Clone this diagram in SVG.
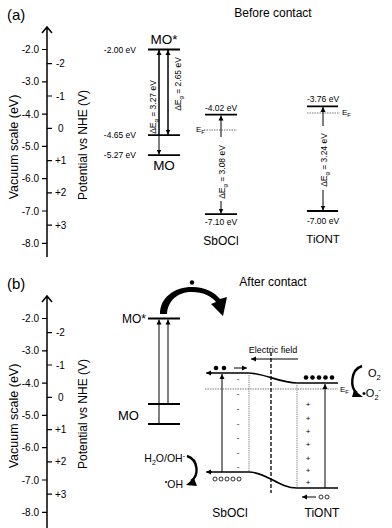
<svg xmlns="http://www.w3.org/2000/svg" width="392" height="528" viewBox="0 0 392 528">
<style>
text{font-family:"Liberation Sans",Arial,sans-serif;fill:#000}
.ax{stroke:#000;stroke-width:1.5;fill:none}
.tk{stroke:#000;stroke-width:1.2}
.tl{font-size:10px;text-anchor:end}
.tr{font-size:10px}
.lv{stroke:#000;stroke-width:1.8}
.ar{stroke:#000;stroke-width:1}
.ef{stroke:#777;stroke-width:1;stroke-dasharray:1.5,1}
.ev{font-size:8.5px;text-anchor:middle}
.evr{font-size:8.5px;text-anchor:end}
.dg{font-size:8.5px;text-anchor:middle}
.big{font-size:12px}
.mid{text-anchor:middle}
</style>
<defs>
<marker id="ah" markerWidth="6" markerHeight="6" refX="5" refY="3" orient="auto-start-reverse" markerUnits="userSpaceOnUse">
<path d="M0,0.5 L5,3 L0,5.5 Z" fill="#000"/>
</marker>
</defs>

<g id="labels">
<text x="7" y="20" font-size="15">(a)</text>
<text x="273" y="17" class="big mid">Before contact</text>
<text x="7" y="289" font-size="15">(b)</text>
<text x="273" y="286" class="big mid">After contact</text>
</g>

<g id="axis-a">
<path class="ax" d="M47,27 V257 M42,33 L47,27 L52,33"/>
<path class="tk" d="M42,49.5 H47 M42,81.8 H47 M42,114.1 H47 M42,146.4 H47 M42,178.7 H47 M42,211 H47 M42,243.3 H47 M47,63.7 H52 M47,96 H52 M47,128.3 H52 M47,160.6 H52 M47,192.9 H52 M47,225.2 H52"/>
<text class="tl" x="39" y="53">-2.0</text>
<text class="tl" x="39" y="85.3">-3.0</text>
<text class="tl" x="39" y="117.6">-4.0</text>
<text class="tl" x="39" y="149.9">-5.0</text>
<text class="tl" x="39" y="182.2">-6.0</text>
<text class="tl" x="39" y="214.5">-7.0</text>
<text class="tl" x="39" y="246.8">-8.0</text>
<text class="tr" x="56" y="67.2">-2</text>
<text class="tr" x="56" y="99.5">-1</text>
<text class="tr" x="58" y="131.8">0</text>
<text class="tr" x="55" y="164.1">+1</text>
<text class="tr" x="55" y="196.4">+2</text>
<text class="tr" x="55" y="228.7">+3</text>
<text transform="translate(18,147) rotate(-90)" font-size="12.5" text-anchor="middle">Vacuum scale (eV)</text>
<text transform="translate(87,145) rotate(-90)" font-size="12" text-anchor="middle">Potential vs NHE (V)</text>
</g>

<g id="axis-b">
<path class="ax" d="M47,296 V528 M42,302 L47,296 L52,302"/>
<path class="tk" d="M42,318.5 H47 M42,350.8 H47 M42,383.1 H47 M42,415.4 H47 M42,447.7 H47 M42,480 H47 M42,512.3 H47 M47,332.7 H52 M47,365 H52 M47,397.3 H52 M47,429.6 H52 M47,461.9 H52 M47,494.2 H52"/>
<text class="tl" x="39" y="322">-2.0</text>
<text class="tl" x="39" y="354.3">-3.0</text>
<text class="tl" x="39" y="386.6">-4.0</text>
<text class="tl" x="39" y="418.9">-5.0</text>
<text class="tl" x="39" y="451.2">-6.0</text>
<text class="tl" x="39" y="483.5">-7.0</text>
<text class="tl" x="39" y="515.8">-8.0</text>
<text class="tr" x="56" y="336.2">-2</text>
<text class="tr" x="56" y="368.5">-1</text>
<text class="tr" x="58" y="400.8">0</text>
<text class="tr" x="55" y="433.1">+1</text>
<text class="tr" x="55" y="465.4">+2</text>
<text class="tr" x="55" y="497.7">+3</text>
<text transform="translate(18,416) rotate(-90)" font-size="12.5" text-anchor="middle">Vacuum scale (eV)</text>
<text transform="translate(87,414) rotate(-90)" font-size="12" text-anchor="middle">Potential vs NHE (V)</text>
</g>

<g id="mo-a">
<path class="lv" d="M148,49.5 H180 M148,135.1 H180 M148,155.1 H180"/>
<text x="164" y="44" class="mid" font-size="13.5">MO*</text>
<text x="164" y="170" class="mid" font-size="13.5">MO</text>
<text class="evr" x="136" y="52.5">-2.00 eV</text>
<text class="evr" x="136" y="138">-4.65 eV</text>
<text class="evr" x="136" y="158">-5.27 eV</text>
<text transform="translate(155.5,107) rotate(-90)" class="dg">ΔE<tspan font-size="6" dy="2">g</tspan><tspan dy="-2"> = 3.27 eV</tspan></text>
<text transform="translate(180.5,84) rotate(-90)" class="dg">ΔE<tspan font-size="6" dy="2">g</tspan><tspan dy="-2"> = 2.65 eV</tspan></text>
</g>

<g id="sbocl-a">
<path class="lv" d="M205,114.7 H237 M205,214.2 H237"/>
<path class="ef" d="M204,130 H237"/>
<text x="196" y="132" font-size="8">E<tspan font-size="5.5" dy="1.5">F</tspan></text>
<text class="ev" x="221" y="111">-4.02 eV</text>
<text class="ev" x="221" y="225">-7.10 eV</text>
<text class="mid" x="221" y="245" font-size="12">SbOCl</text>
<text transform="translate(224.5,172) rotate(-90)" class="dg">ΔE<tspan font-size="6" dy="2">g</tspan><tspan dy="-2"> = 3.08 eV</tspan></text>
</g>

<g id="tiont-a">
<path class="lv" d="M307,106.3 H338 M307,211 H338"/>
<path class="ef" d="M307,113 H340"/>
<text x="342" y="115" font-size="8">E<tspan font-size="5.5" dy="1.5">F</tspan></text>
<text class="ev" x="323" y="102">-3.76 eV</text>
<text class="ev" x="323" y="224">-7.00 eV</text>
<text class="mid" x="323" y="243" font-size="11.5">TiONT</text>
<text transform="translate(326.5,160) rotate(-90)" class="dg">ΔE<tspan font-size="6" dy="2">g</tspan><tspan dy="-2"> = 3.24 eV</tspan></text>
</g>

<g id="mo-b">
<path class="lv" d="M148,318.5 H180 M148,404 H180 M148,424 H180"/>
<text x="146" y="323" text-anchor="end" font-size="12">MO*</text>
<text x="118" y="420" font-size="13">MO</text>
</g>

<g id="band-b">
<path stroke="#000" stroke-width="1.6" fill="none" d="M207,373 H248 C264,373 280,383 297,383 H338"/>
<path stroke="#000" stroke-width="1.6" fill="none" d="M207,472 H249 C266,472 279,488 297,488 H338"/>
<path class="ef" d="M205,389 H338"/>
<text x="340" y="392" font-size="8">E<tspan font-size="5.5" dy="1.5">F</tspan></text>
<path stroke="#666" stroke-width="0.9" stroke-dasharray="1.2,1" d="M249,373 V472 M297,383 V488"/>
<path stroke="#000" stroke-width="1.3" stroke-dasharray="4,2" d="M271,352 V493"/>
<g font-size="8" text-anchor="middle">
<text x="238" y="381">-</text><text x="238" y="396">-</text><text x="238" y="411">-</text><text x="238" y="426">-</text><text x="238" y="440">-</text><text x="238" y="455">-</text><text x="238" y="469">-</text>
<text x="308" y="407">+</text><text x="308" y="421">+</text><text x="308" y="434">+</text><text x="308" y="447">+</text><text x="308" y="461">+</text><text x="308" y="473">+</text><text x="308" y="485">+</text>
</g>
<g fill="#000">
<circle cx="216" cy="368" r="2.3"/><circle cx="224" cy="368" r="2.3"/>
<circle cx="306" cy="377.5" r="2.3"/><circle cx="312.5" cy="377.5" r="2.3"/><circle cx="319" cy="377.5" r="2.3"/><circle cx="325.5" cy="377.5" r="2.3"/><circle cx="332" cy="377.5" r="2.3"/>
<circle cx="192" cy="282.5" r="2.2"/>
</g>
<g fill="none" stroke="#000" stroke-width="0.8">
<circle cx="215" cy="479" r="2"/><circle cx="221" cy="479" r="2"/><circle cx="227" cy="479" r="2"/><circle cx="233" cy="479" r="2"/><circle cx="239" cy="479" r="2"/>
<circle cx="321" cy="497" r="2"/><circle cx="327" cy="497" r="2"/>
</g>
<text x="273" y="353" class="mid" font-size="9">Electric field</text>
<text x="230" y="517" class="mid" font-size="12">SbOCl</text>
<text x="322" y="517" class="mid" font-size="12">TiONT</text>
<text x="368" y="377" font-size="11">O<tspan font-size="7.5" dy="2.5">2</tspan></text>
<text x="362" y="397" font-size="11">•O<tspan font-size="7.5" dy="2.5">2</tspan><tspan font-size="7" dy="-8">-</tspan></text>
<text x="185" y="462" text-anchor="end" font-size="10.5">H<tspan font-size="7" dy="2.5">2</tspan><tspan dy="-2.5">O/OH</tspan><tspan font-size="7" dy="-4">-</tspan></text>
<text x="183" y="488" text-anchor="end" font-size="10.5"><tspan font-size="7" dy="-4">•</tspan><tspan dy="4">OH</tspan></text>
</g>

<g id="connectors">
<path class="ar" d="M159,135.1 V50" marker-end="url(#ah)"/>
<path class="ar" d="M159,50 V154.6" marker-end="url(#ah)"/>
<path class="ar" d="M168,50 V134.6" marker-end="url(#ah)"/>
<path class="ar" d="M168,134.6 V50" marker-end="url(#ah)"/>
<path class="ar" d="M221,137 V115.5" marker-end="url(#ah)"/>
<path class="ar" d="M221,201 V213.5" marker-end="url(#ah)"/>
<path class="ar" d="M323,126 V107" marker-end="url(#ah)"/>
<path class="ar" d="M323,190 V210.5" marker-end="url(#ah)"/>
<path class="ar" d="M159,424 V319.5" marker-end="url(#ah)"/>
<path class="ar" d="M168,404 V319.5" marker-end="url(#ah)"/>
<path class="ar" d="M222,472 V374" marker-end="url(#ah)"/>
<path class="ar" d="M325,488 V384" marker-end="url(#ah)"/>
<path class="ar" d="M212,373 H206" marker-end="url(#ah)"/>
<path class="ar" d="M212,472 H206" marker-end="url(#ah)"/>
<path class="ar" d="M234,368 H247" marker-end="url(#ah)"/>
<path class="ar" d="M298,359 H251" marker-end="url(#ah)"/>
<path class="ar" d="M316,497 H302" marker-end="url(#ah)"/>
<path fill="#000" d="M160,314 C160,297 175,287 192,287 C206,287 215,293 220,299 L227,297 L223,316 L211,304 L216,302 C211,296 203,292 192,292 C178,292 168,300 167,314 Z"/>
<path fill="none" stroke="#000" stroke-width="2.4" d="M362,366 C350,370 350,388 357,393"/>
<path fill="#000" d="M354,390 L363,397 L352,397 Z"/>
<path fill="none" stroke="#000" stroke-width="2.4" d="M187,456 C199,460 199,476 191,481"/>
<path fill="#000" d="M194,478 L186,485 L197,486 Z"/>
</g>
</svg>
